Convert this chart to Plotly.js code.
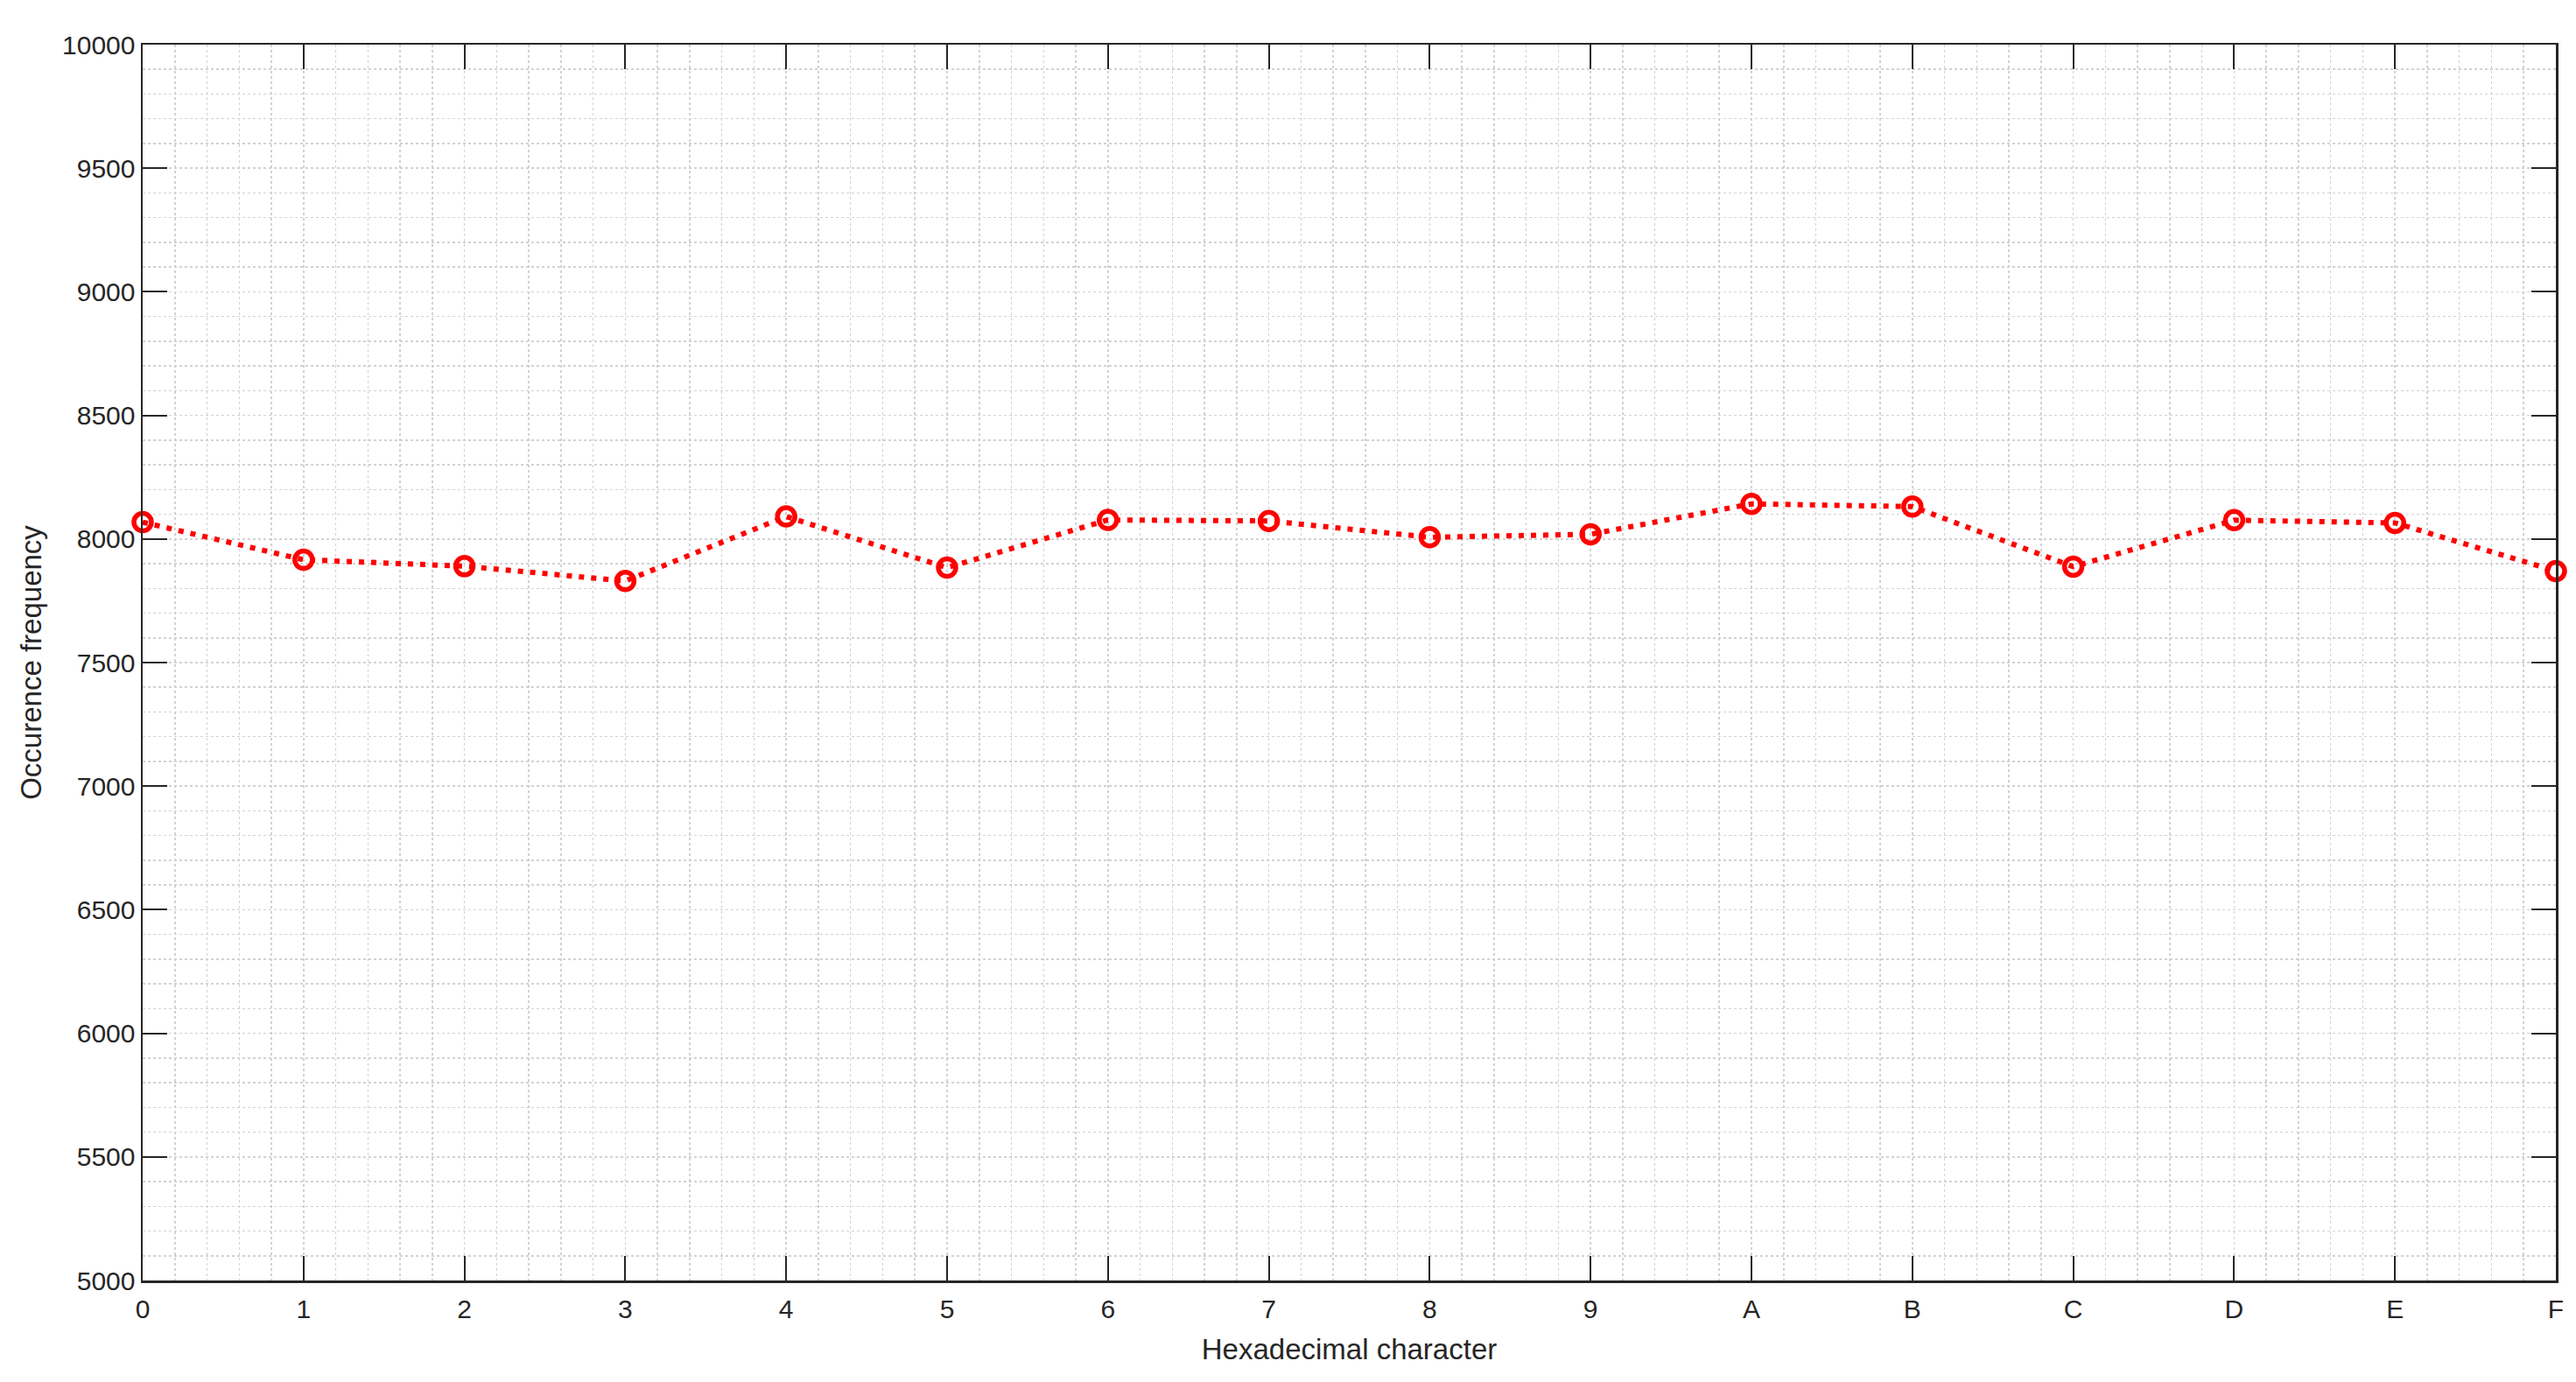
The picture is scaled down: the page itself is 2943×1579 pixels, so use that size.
<!DOCTYPE html>
<html>
<head>
<meta charset="utf-8">
<script src="https://cdn.plot.ly/plotly-3.0.1.min.js"></script>
<style>
  html, body { margin: 0; padding: 0; background: #ffffff; }
  #chart { width: 2943px; height: 1579px; }
</style>
</head>
<body>
<div id="chart"></div>
<script>
// Hex characters and how often each one occurs
const hexChars = ["0", "1", "2", "3", "4", "5", "6", "7", "8", "9", "A", "B", "C", "D", "E", "F"];
const occurrences = [8068, 7916, 7890, 7830, 8091, 7884, 8077, 8073, 8007, 8019, 8142, 8131, 7888, 8076, 8065, 7870];
const yTicks = [5000, 5500, 6000, 6500, 7000, 7500, 8000, 8500, 9000, 9500, 10000];

const xIndex = hexChars.map((c, i) => i);

const axisColor = "#262626";
const gridColor = "#d2d2d2";

const trace = {
  x: xIndex,
  y: occurrences,
  mode: "lines+markers",
  line: { color: "#ff0000", width: 6, dash: "6px,8px" },
  marker: {
    symbol: "circle-open",
    size: 20,
    color: "#ff0000",
    line: { color: "#ff0000", width: 5.5 }
  },
  cliponaxis: false,
  hoverinfo: "x+y"
};

const commonAxis = {
  showline: true,
  linecolor: axisColor,
  linewidth: 2.5,
  mirror: "ticks",
  ticks: "inside",
  ticklen: 28,
  tickwidth: 2,
  tickcolor: axisColor,
  showgrid: true,
  gridcolor: gridColor,
  gridwidth: 1.5,
  griddash: "dot",
  zeroline: false,
  tickfont: { family: "Liberation Sans, Arial, sans-serif", size: 30, color: axisColor }
};

const layout = {
  width: 2943,
  height: 1579,
  margin: { l: 163, r: 23, t: 51, b: 116 },
  paper_bgcolor: "#ffffff",
  plot_bgcolor: "#ffffff",
  showlegend: false,
  xaxis: Object.assign({}, commonAxis, {
    range: [0, 15],
    tickmode: "array",
    tickvals: xIndex,
    ticktext: hexChars,
    ticklabelstandoff: 4,
    minor: { dtick: 0.2, tick0: 0, showgrid: true, gridcolor: gridColor, gridwidth: 1.5, griddash: "dot", ticks: "" },
    title: {
      text: "Hexadecimal character",
      font: { family: "Liberation Sans, Arial, sans-serif", size: 33, color: axisColor },
      standoff: 20
    }
  }),
  yaxis: Object.assign({}, commonAxis, {
    range: [5000, 10000],
    tickmode: "array",
    tickvals: yTicks,
    ticktext: yTicks.map(String),
    minor: { dtick: 100, tick0: 5000, showgrid: true, gridcolor: gridColor, gridwidth: 1.5, griddash: "dot", ticks: "" },
    title: {
      text: "Occurence frequency",
      font: { family: "Liberation Sans, Arial, sans-serif", size: 33, color: axisColor },
      standoff: 14
    }
  })
};

Plotly.newPlot("chart", [trace], layout, { displayModeBar: false, staticPlot: true });
</script>
</body>
</html>
